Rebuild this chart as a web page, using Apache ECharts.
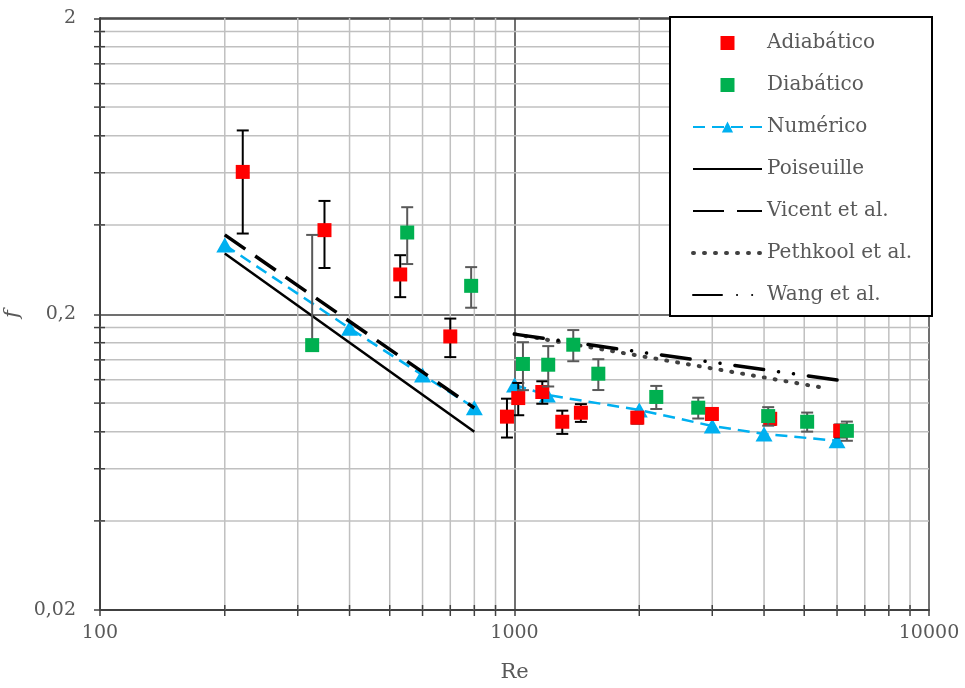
<!DOCTYPE html>
<html>
<head>
<meta charset="utf-8">
<script src="https://cdn.jsdelivr.net/npm/echarts@6/dist/echarts.min.js"></script>
<style>html,body{margin:0;padding:0;background:#fff}#c{width:965px;height:688px}</style>
</head>
<body>
<div id="c"></div>
<script>
// ---------------- data ----------------
const xMin = 100, xMax = 10000;
const yMin = 0.02, yMax = 2;
const xMinorTicks = [200,300,400,500,600,700,800,900,2000,3000,4000,5000,6000,7000,8000,9000];
const yMinorTicks = [0.04,0.06,0.08,0.1,0.12,0.14,0.16,0.18,0.4,0.6,0.8,1.0,1.2,1.4,1.6,1.8];

const adiaRe  = [221, 348, 530, 700, 959, 1021, 1167, 1304, 1446, 1978, 2994, 4139, 6105];
const adiaF   = [0.604, 0.384, 0.272, 0.168, 0.090, 0.104, 0.109, 0.0865, 0.0928, 0.0893, 0.0919, 0.0885, 0.0806];
const adiaErr = [0.23, 0.098, 0.044, 0.025, 0.0135, 0.013, 0.0095, 0.0078, 0.0064, 0.004, 0.004, 0.004, 0.004];

const diaRe  = [325, 551, 786, 1048, 1206, 1386, 1593, 2198, 2775, 4093, 5082, 6337];
const diaF   = [0.157, 0.377, 0.249, 0.1356, 0.1348, 0.1575, 0.1257, 0.1049, 0.0965, 0.0904, 0.0865, 0.0806];
const diaErr = [0.213, 0.082, 0.039, 0.025, 0.021, 0.019, 0.015, 0.0094, 0.0078, 0.0065, 0.0064, 0.006];

const numLamRe = [200, 400, 600, 800];
const numLamF  = [0.342, 0.179, 0.1244, 0.0965];
const numTurRe = [1000, 1200, 2000, 3000, 4000, 6000];
const numTurF  = [0.1151, 0.1065, 0.0948, 0.0837, 0.0787, 0.0746];

const poisRe = [200, 800];
const poisF  = [0.32, 0.08];
const vicRe  = [200, 800];
const vicF   = [0.37, 0.0963];
const pethRe = [1000, 5700];
const pethF  = [0.171, 0.112];
const wangRe = [1000, 6000];
const wangF  = [0.171, 0.1197];

// ---------------- helpers ----------------
const zip = (a, b) => a.map((v, i) => [v, b[i]]);
const zip3 = (a, b, c) => a.map((v, i) => [v, b[i], c[i]]);
const FONT = 'DejaVu Serif';
const TXT = '#595959';
const AXC = '#404040';
const GRIDC = '#c0c0c0';

function errRender(color) {
  return function (params, api) {
    const x = api.value(0), y = api.value(1), e = api.value(2);
    const top = api.coord([x, y + e]);
    const mid = api.coord([x, y]);
    const hasLow = y - e > 0;
    const bot = hasLow ? api.coord([x, y - e]) : mid;
    const cw = 6;
    const st = { stroke: color, lineWidth: 2 };
    const ch = [
      { type: 'line', shape: { x1: top[0], y1: top[1], x2: bot[0], y2: bot[1] }, style: st },
      { type: 'line', shape: { x1: top[0] - cw, y1: top[1], x2: top[0] + cw, y2: top[1] }, style: st }
    ];
    if (hasLow) ch.push({ type: 'line', shape: { x1: bot[0] - cw, y1: bot[1], x2: bot[0] + cw, y2: bot[1] }, style: st });
    return { type: 'group', children: ch };
  };
}

function vGridRender(params, api) {
  const v = api.value(0);
  const p1 = api.coord([v, yMax]);
  const p2 = api.coord([v, yMin]);
  return { type: 'group', children: [
    { type: 'line', shape: { x1: p1[0], y1: p1[1], x2: p2[0], y2: p2[1] }, style: { stroke: GRIDC, lineWidth: 1.5 } },
    { type: 'line', shape: { x1: p2[0], y1: p2[1] - 5, x2: p2[0], y2: p2[1] + 6 }, style: { stroke: AXC, lineWidth: 1.5 } }
  ] };
}
function hGridRender(params, api) {
  const v = api.value(1);
  const p1 = api.coord([xMin, v]);
  const p2 = api.coord([xMax, v]);
  return { type: 'group', children: [
    { type: 'line', shape: { x1: p1[0], y1: p1[1], x2: p2[0], y2: p2[1] }, style: { stroke: GRIDC, lineWidth: 1.5 } },
    { type: 'line', shape: { x1: p1[0] - 6, y1: p1[1], x2: p1[0] + 5, y2: p1[1] }, style: { stroke: AXC, lineWidth: 1.5 } }
  ] };
}

const fmtNum = v => String(Number(Number(v).toPrecision(2))).replace('.', ',');
const noSym = { opacity: 0 };

const option = {
  animation: false,
  backgroundColor: '#fff',
  textStyle: { fontFamily: FONT },
  grid: { left: 100, right: 36, top: 18, bottom: 78, containLabel: false, outerBoundsMode: 'none' },
  xAxis: {
    type: 'log', logBase: 10, min: xMin, max: xMax,
    name: 'Re', nameLocation: 'middle', nameGap: 52,
    nameTextStyle: { color: TXT, fontSize: 21, fontFamily: FONT },
    axisLine: { show: true, onZero: false, lineStyle: { color: AXC, width: 2 } },
    axisTick: { show: true, length: 6, lineStyle: { color: AXC, width: 1.5 } },
    axisLabel: { color: TXT, fontSize: 19, fontFamily: FONT, margin: 14, formatter: v => fmtNum(v) },
    splitLine: { show: true, lineStyle: { color: AXC, width: 1.5 } },
    minorTick: { show: false }, minorSplitLine: { show: false }
  },
  yAxis: {
    type: 'log', logBase: 10, min: yMin, max: yMax, interval: 1,
    name: 'f', nameLocation: 'middle', nameGap: 64, nameRotate: 90,
    nameTextStyle: { color: TXT, fontSize: 21, fontFamily: FONT, fontStyle: 'italic' },
    axisLine: { show: true, onZero: false, lineStyle: { color: AXC, width: 2 } },
    axisTick: { show: true, length: 6, lineStyle: { color: AXC, width: 1.5 } },
    axisLabel: { color: TXT, fontSize: 19, fontFamily: FONT, margin: 24, formatter: v => fmtNum(v) },
    splitLine: { show: true, lineStyle: { color: AXC, width: 1.5 } },
    minorTick: { show: false }, minorSplitLine: { show: false }
  },
  legend: {
    orient: 'vertical', left: 670, top: 17,
    backgroundColor: '#fff', borderColor: '#000', borderWidth: 2, borderRadius: 0,
    padding: [15, 0, 10, 21],
    itemWidth: 69, itemHeight: 14, itemGap: 20,
    symbolKeepAspect: true,
    textStyle: { color: TXT, fontSize: 20, fontFamily: FONT, lineHeight: 22, width: 165 },
    data: [
      { name: 'Adiabático', icon: 'path://M0 0H10V10H0Z' },
      { name: 'Diabático', icon: 'path://M0 0H10V10H0Z' },
      'Numérico',
      { name: 'Poiseuille', itemStyle: noSym },
      { name: 'Vicent et al.', itemStyle: noSym, lineStyle: { type: [31, 13] } },
      { name: 'Pethkool et al.', itemStyle: noSym, lineStyle: { width: 4, type: [1, 10], cap: 'round', color: '#404040' } },
      { name: 'Wang et al.', itemStyle: noSym }
    ]
  },
  series: [
    { type: 'custom', name: 'gx', silent: true, z: 1, renderItem: vGridRender,
      encode: { x: 0, y: 1 }, data: xMinorTicks.map(v => [v, yMin]), clip: false },
    { type: 'custom', name: 'gy', silent: true, z: 1, renderItem: hGridRender,
      encode: { x: 0, y: 1 }, data: yMinorTicks.map(v => [xMin, v]), clip: false },
    { type: 'line', name: 'Poiseuille', data: zip(poisRe, poisF), showSymbol: false, symbol: 'none', z: 3,
      lineStyle: { color: '#000', width: 2.5, type: 'solid' }, itemStyle: { color: '#000' } },
    { type: 'line', name: 'Numérico', data: zip(numLamRe, numLamF), symbol: 'triangle', symbolSize: [17, 15], z: 4,
      lineStyle: { color: '#00B0F0', width: 2.5, type: [12, 7] }, itemStyle: { color: '#00B0F0' } },
    { type: 'line', name: 'Numérico', data: zip(numTurRe, numTurF), symbol: 'triangle', symbolSize: [17, 15], z: 4,
      lineStyle: { color: '#00B0F0', width: 2.5, type: [12, 7] }, itemStyle: { color: '#00B0F0' } },
    { type: 'line', name: 'Vicent et al.', data: zip(vicRe, vicF), showSymbol: false, symbol: 'none', z: 5,
      lineStyle: { color: '#000', width: 3.5, type: [25, 12] }, itemStyle: { color: '#000' } },
    { type: 'line', name: 'Pethkool et al.', data: zip(pethRe, pethF), showSymbol: false, symbol: 'none', z: 5,
      lineStyle: { color: '#404040', width: 4, type: [1, 10], cap: 'round' }, itemStyle: { color: '#404040' } },
    { type: 'line', name: 'Wang et al.', data: zip(wangRe, wangF), showSymbol: false, symbol: 'none', z: 5,
      lineStyle: { color: '#000', width: 3.5, type: [29, 15, 0.1, 15, 0.1, 15], cap: 'round' }, itemStyle: { color: '#000' } },
    { type: 'custom', name: 'errA', silent: true, z: 6, renderItem: errRender('#000'),
      encode: { x: 0, y: 1 }, data: zip3(adiaRe, adiaF, adiaErr) },
    { type: 'scatter', name: 'Adiabático', data: zip(adiaRe, adiaF), symbol: 'rect', symbolSize: 14, z: 7,
      itemStyle: { color: '#FF0000', opacity: 1 } },
    { type: 'custom', name: 'errD', silent: true, z: 8, renderItem: errRender('#595959'),
      encode: { x: 0, y: 1 }, data: zip3(diaRe, diaF, diaErr) },
    { type: 'scatter', name: 'Diabático', data: zip(diaRe, diaF), symbol: 'rect', symbolSize: 14, z: 9,
      itemStyle: { color: '#00B050', opacity: 1 } }
  ]
};

const chart = echarts.init(document.getElementById('c'), null, { renderer: 'canvas' });
chart.setOption(option);
</script>
</body>
</html>
